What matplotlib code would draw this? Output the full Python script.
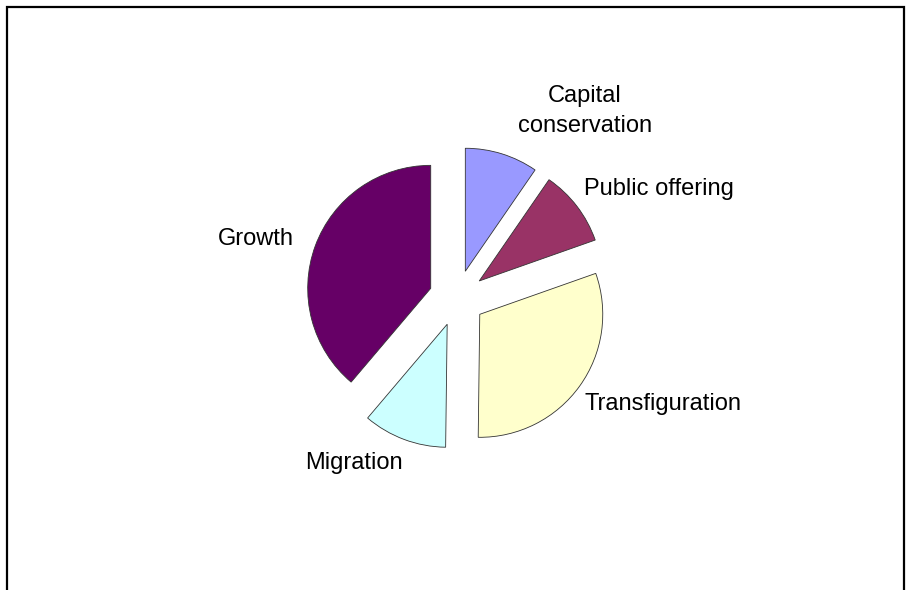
import matplotlib
matplotlib.use("Agg")
import matplotlib.pyplot as plt

# slice data, clockwise from 12 o'clock
categories = ["Capital\nconservation", "Public offering", "Transfiguration", "Migration", "Growth"]
shares = [9.6, 10.0, 30.6, 11.0, 38.8]
colors = ["#9999FF", "#993366", "#FFFFCC", "#CCFFFF", "#660066"]

# label positions in image pixels (x, y from top)
label_pos = [(585, 111), (659, 189), (663, 404), (354, 463), (256, 239)]

W, H = 907, 590
plt.rcParams["font.family"] = ["Liberation Sans", "DejaVu Sans"]

fig = plt.figure(figsize=(W / 100, H / 100), dpi=100)
ax = fig.add_axes([0, 0, 1, 1])

cx, cy, r = 457, H - 298, 123
ax.pie(shares, colors=colors, startangle=90, counterclock=False,
       radius=r, center=(cx, cy), explode=[28] * len(shares),
       wedgeprops=dict(edgecolor="#333333", linewidth=0.6), frame=True)
ax.set_xlim(0, W)
ax.set_ylim(0, H)
ax.set_aspect("equal")
ax.axis("off")

for name, (x, y) in zip(categories, label_pos):
    ax.text(x, H - y, name, fontsize=17, ha="center", va="center",
            linespacing=1.45)

# chart area border (bottom edge falls outside the image)
ax.plot([7, 7, 904, 904], [-10, H - 7, H - 7, -10], color="black",
        linewidth=1.6, solid_joinstyle="miter", clip_on=False)

fig.savefig("out.png", dpi=100)
